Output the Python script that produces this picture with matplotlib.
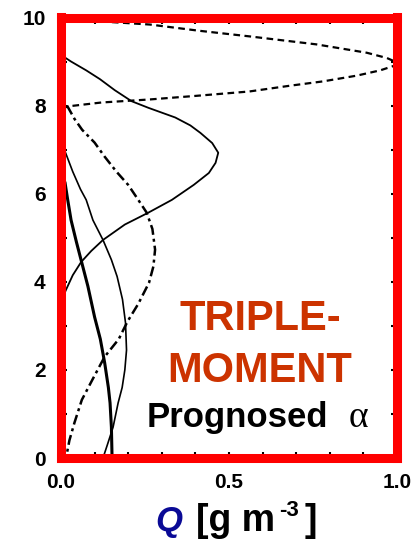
import numpy as np
import matplotlib
matplotlib.use("Agg")
import matplotlib.pyplot as plt

plt.rcParams['font.family'] = ['Liberation Sans', 'DejaVu Sans']
plt.rcParams['font.weight'] = 'bold'

# --- vertical profiles: height (km) vs mass content Q ---
# dashed: upper-level peak
z_a = [10.0, 9.93, 9.84, 9.7, 9.57, 9.39, 9.2, 9.08, 8.98, 8.9, 8.8, 8.68, 8.55, 8.45, 8.32, 8.22, 8.14, 8.07, 7.98, 7.9]
q_a = [0.02, 0.08, 0.265, 0.41, 0.5625, 0.76, 0.91, 0.97, 1.0, 0.99, 0.95, 0.88, 0.78, 0.68, 0.56, 0.4, 0.265, 0.12, 0.018, 0.0]

# solid: mid-level peak
z_b = [9.15, 9.0, 8.8, 8.6, 8.35, 8.1, 7.95, 7.73, 7.55, 7.38, 7.15, 6.93, 6.7, 6.47, 6.2, 5.86, 5.57, 5.3, 4.95, 4.7, 4.45, 4.15, 3.82, 3.55]
q_b = [0.0, 0.03, 0.075, 0.116, 0.16, 0.21, 0.26, 0.34, 0.385, 0.415, 0.45, 0.468, 0.46, 0.44, 0.395, 0.33, 0.26, 0.19, 0.125, 0.09, 0.06, 0.035, 0.015, 0.0]

# dash-dot: lower mid-level peak
z_c = [8.0, 7.7, 7.45, 7.16, 6.84, 6.5, 6.2, 5.86, 5.57, 5.2, 4.73, 4.35, 3.98, 3.5, 3.1, 2.7, 2.3, 1.8, 1.32, 0.8, 0.4, 0.0]
q_c = [0.018, 0.04, 0.063, 0.10, 0.13, 0.165, 0.2, 0.23, 0.255, 0.272, 0.28, 0.275, 0.262, 0.23, 0.198, 0.172, 0.13, 0.095, 0.062, 0.04, 0.025, 0.015]

# thin solid
z_d = [7.2, 6.9, 6.5, 6.1, 5.86, 5.4, 4.95, 4.5, 4.12, 3.6, 3.07, 2.45, 2.0, 1.6, 1.25, 0.7, 0.3, 0.0]
q_d = [0.0, 0.015, 0.035, 0.058, 0.075, 0.095, 0.125, 0.15, 0.167, 0.183, 0.192, 0.195, 0.19, 0.182, 0.17, 0.155, 0.138, 0.125]

# thick solid
z_e = [6.5, 6.25, 5.86, 5.4, 4.9, 4.43, 3.9, 3.2, 2.7, 2.16, 1.6, 1.25, 0.7, 0.0]
q_e = [0.0, 0.012, 0.02, 0.03, 0.046, 0.062, 0.08, 0.10, 0.117, 0.13, 0.141, 0.146, 0.15, 0.152]

x_ticks = [0.0, 0.1, 0.2, 0.3, 0.4, 0.5, 0.6, 0.7, 0.8, 0.9, 1.0]
x_labels = ["0.0", "", "", "", "", "0.5", "", "", "", "", "1.0"]
y_ticks = [0, 1, 2, 3, 4, 5, 6, 7, 8, 9, 10]
y_labels = ["0", "", "2", "", "4", "", "6", "", "8", "", "10"]

W, H = 416, 542
fig = plt.figure(figsize=(W / 100, H / 100), dpi=100)
ax = fig.add_axes([61 / W, 84 / H, 336 / W, 440.5 / H])

ax.plot(q_a, z_a, color='black', lw=1.6, dashes=(3.0, 2.0))
ax.plot(q_b, z_b, color='black', lw=1.3)
ax.plot(q_c, z_c, color='black', lw=1.8, dashes=(4.0, 1.6, 1.2, 1.6))
ax.plot(q_d, z_d, color='black', lw=1.2)
ax.plot(q_e, z_e, color='black', lw=2.2)

ax.set_xlim(0, 1)
ax.set_ylim(0, 10)
ax.set_xticks(x_ticks)
ax.set_xticklabels(x_labels)
ax.set_yticks(y_ticks)
ax.set_yticklabels(y_labels)
ax.tick_params(direction='in', length=4, width=1.5, top=True, right=True,
               labelsize=15)
ax.tick_params(axis='x', pad=11)
ax.tick_params(axis='y', pad=11)

for s in ax.spines.values():
    s.set_color('#ff0000')
    s.set_linewidth(6.5)
    s.set_zorder(5)

px = lambda x: (x - 61) / 336   # pixel column -> axes fraction
trans = ax.get_yaxis_transform()
ax.text(px(260), 2.91, "TRIPLE-", color='#cc3300', fontsize=30, fontweight='bold',
        ha='center', va='baseline', transform=trans)
ax.text(px(260), 1.73, "MOMENT", color='#cc3300', fontsize=30, fontweight='bold',
        ha='center', va='baseline', transform=trans)
ax.text(px(147), 0.70, "Prognosed", color='black', fontsize=25, fontweight='bold',
        ha='left', va='baseline', transform=trans)
ax.text(px(349), 0.70, "α", color='black', fontsize=27, fontweight='normal',
        family=['Liberation Serif', 'DejaVu Serif'],
        ha='left', va='baseline', transform=trans)

# axis title below the plot
yb = 1 - 531 / H
fig.text(155 / W, yb, "Q", color='#0a0a96', fontsize=25,
         fontweight='bold', style='italic', ha='left', va='baseline')
fig.text(196 / W, yb, "[g m", color='black', fontsize=27,
         fontweight='bold', ha='left', va='baseline')
fig.text(279 / W, 1 - 516 / H, "-3", color='black', fontsize=16,
         fontweight='bold', ha='left', va='baseline')
fig.text(305 / W, yb, "]", color='black', fontsize=27,
         fontweight='bold', ha='left', va='baseline')

fig.savefig("out.png", dpi=100)
